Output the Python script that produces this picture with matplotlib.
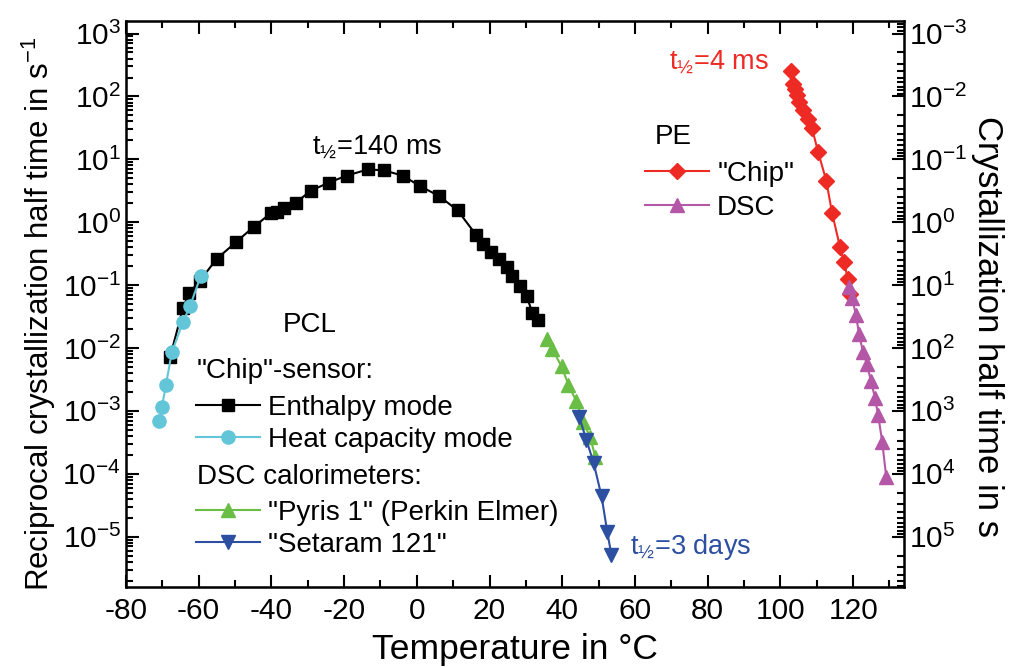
import numpy as np
import matplotlib.pyplot as plt
from matplotlib.ticker import LogLocator, NullFormatter, MultipleLocator

plt.rcParams['font.family'] = ['Liberation Sans', 'DejaVu Sans']
plt.rcParams['mathtext.fontset'] = 'custom'
plt.rcParams['mathtext.rm'] = 'Liberation Sans'
plt.rcParams['mathtext.it'] = 'Liberation Sans'
plt.rcParams['mathtext.default'] = 'regular'
plt.rcParams['axes.unicode_minus'] = False

# PCL, "Chip"-sensor
T_enth = [-67.9, -64.3, -62.7, -59.7, -55.0, -49.8, -44.8, -40.2, -38.5, -36.6,
          -33.3, -29.2, -24.2, -19.3, -13.5, -9.1, -3.9, 1.0, 6.0, 11.2,
          16.4, 18.1, 20.5, 22.5, 24.7, 26.3, 28.5, 30.2, 31.8, 33.2]
r_enth = [7.1e-3, 4.3e-2, 7.4e-2, 0.117, 0.263, 0.479, 0.851, 1.38, 1.48, 1.70,
          2.04, 3.16, 4.27, 5.50, 6.9, 6.7, 5.50, 3.72, 2.63, 1.55,
          0.617, 0.457, 0.339, 0.257, 0.191, 0.138, 0.0977, 0.0661, 0.0363, 0.0282]

T_heat = [-70.9, -70.1, -69.0, -67.4, -64.3, -62.4, -59.4]
r_heat = [6.8e-4, 1.17e-3, 2.6e-3, 8.5e-3, 2.6e-2, 4.6e-2, 0.141]

# PCL, DSC
T_pyris = [35.9, 37.3, 39.8, 41.7, 43.9, 45.8, 47.7, 49.1]
r_pyris = [1.41e-2, 9.5e-3, 5.1e-3, 2.6e-3, 1.41e-3, 6.6e-4, 3.8e-4, 1.82e-4]

T_setaram = [44.7, 46.6, 48.6, 50.8, 52.4, 53.5]
r_setaram = [7.9e-4, 3.5e-4, 1.51e-4, 4.4e-5, 1.17e-5, 5.2e-6]

# PE
T_pe_chip = [103.0, 103.5, 104.1, 104.6, 105.2, 106.3, 107.6, 108.7, 110.4, 112.6,
             114.2, 116.4, 117.5, 118.6, 119.2]
r_pe_chip = [251, 155, 129, 107, 83, 60, 43, 31, 12.9, 4.6,
             1.41, 0.40, 0.23, 0.123, 0.071]

T_pe_dsc = [118.9, 119.7, 120.8, 121.6, 122.7, 123.8, 124.9, 126.0, 126.9, 128.0, 129.1]
r_pe_dsc = [0.095, 0.063, 0.033, 0.017, 8.7e-3, 5.5e-3, 3.0e-3, 1.62e-3, 8.5e-4, 3.2e-4, 8.9e-5]

c_black = 'black'
c_cyan = '#62C6D8'
c_green = '#6ABD45'
c_blue = '#2D4FA1'
c_red = '#EE2A24'
c_purple = '#B357A6'

fig = plt.figure(figsize=(10.11, 6.68), dpi=100)
ax = fig.add_axes([0.1246, 0.1213, 0.7696, 0.8473])

l_enth, = ax.plot(T_enth, r_enth, '-s', color=c_black, ms=9, lw=1.5)
l_heat, = ax.plot(T_heat, r_heat, '-o', color=c_cyan, ms=9.5, lw=1.5)
l_pyris, = ax.plot(T_pyris, r_pyris, '-^', color=c_green, ms=10, lw=1.5)
l_set, = ax.plot(T_setaram, r_setaram, '-v', color=c_blue, ms=10, lw=1.5)
l_pec, = ax.plot(T_pe_chip, r_pe_chip, '-D', color=c_red, ms=8, lw=1.5)
l_ped, = ax.plot(T_pe_dsc, r_pe_dsc, '-^', color=c_purple, ms=10, lw=1.5)

ax.set_yscale('log')
ax.set_xlim(-80, 134)
ax.set_ylim(10**-5.8, 10**3.2)
ax.xaxis.set_major_locator(MultipleLocator(20))
ax.xaxis.set_minor_locator(MultipleLocator(10))
ax.yaxis.set_major_locator(LogLocator(base=10, numticks=20))
ax.yaxis.set_minor_locator(LogLocator(base=10, subs=np.arange(2, 10), numticks=20))
ax.yaxis.set_minor_formatter(NullFormatter())
ax.tick_params(which='both', direction='in', top=True, labelsize=21.5, width=1.5)
ax.tick_params(which='major', length=9)
ax.tick_params(which='minor', length=5)
ax.tick_params(axis='x', pad=7)
for s in ax.spines.values():
    s.set_linewidth(1.8)

ax.set_xlabel('Temperature in °C', fontsize=25.5, labelpad=6)
ax.set_ylabel('Reciprocal crystallization half time in s$^{-1}$', fontsize=22.5)
ax.yaxis.set_label_coords(-0.088, 0.482)

ax2 = ax.twinx()
ax2.set_yscale('log')
ax2.set_ylim(1 / 10**-5.8, 1 / 10**3.2)
ax2.yaxis.set_major_locator(LogLocator(base=10, numticks=20))
ax2.yaxis.set_minor_locator(LogLocator(base=10, subs=np.arange(2, 10), numticks=20))
ax2.yaxis.set_minor_formatter(NullFormatter())
ax2.tick_params(which='both', direction='in', labelsize=21.5, width=1.5)
ax2.tick_params(which='major', length=9)
ax2.tick_params(which='minor', length=5)
ax2.set_ylabel('Crystallization half time in s', fontsize=25, rotation=270)
ax2.yaxis.set_label_coords(1.1285, 0.46)

# annotations
ax.text(-11, 10**0.98, 't$_{½}$=140 ms', fontsize=19.5, ha='center', va='bottom')
ax.text(83.2, 10**2.55, 't$_{½}$=4 ms', fontsize=19.5, ha='center', va='center', color=c_red)
ax.text(75.2, 10**-5.17, 't$_{½}$=3 days', fontsize=19.5, ha='center', va='center', color=c_blue)
ax.text(-29.5, 10**-1.63, 'PCL', fontsize=20, ha='center', va='center')
ax.text(70.5, 10**1.36, 'PE', fontsize=20, ha='center', va='center')
ax.text(-60.6, 10**-2.37, '"Chip"-sensor:', fontsize=20, ha='left', va='center')
ax.text(-60.6, 10**-4.05, 'DSC calorimeters:', fontsize=20, ha='left', va='center')

leg_kw = dict(fontsize=20, frameon=False, borderpad=0,
              handlelength=2.3, handletextpad=0.3, labelspacing=0.22,
              borderaxespad=0)
leg1 = ax.legend([l_enth, l_heat], ['Enthalpy mode', 'Heat capacity mode'],
                 loc='upper left', bbox_to_anchor=(0.09, 0.339), **leg_kw)
ax.add_artist(leg1)
leg2 = ax.legend([l_pyris, l_set], ['"Pyris 1" (Perkin Elmer)', '"Setaram 121"'],
                 loc='upper left', bbox_to_anchor=(0.09, 0.154), **leg_kw)
ax.add_artist(leg2)
leg_kw['labelspacing'] = 0.3
leg3 = ax.legend([l_pec, l_ped], ['"Chip"', 'DSC'], loc='upper left',
                 bbox_to_anchor=(0.667, 0.753), **leg_kw)

fig.savefig('out.png', dpi=100)
